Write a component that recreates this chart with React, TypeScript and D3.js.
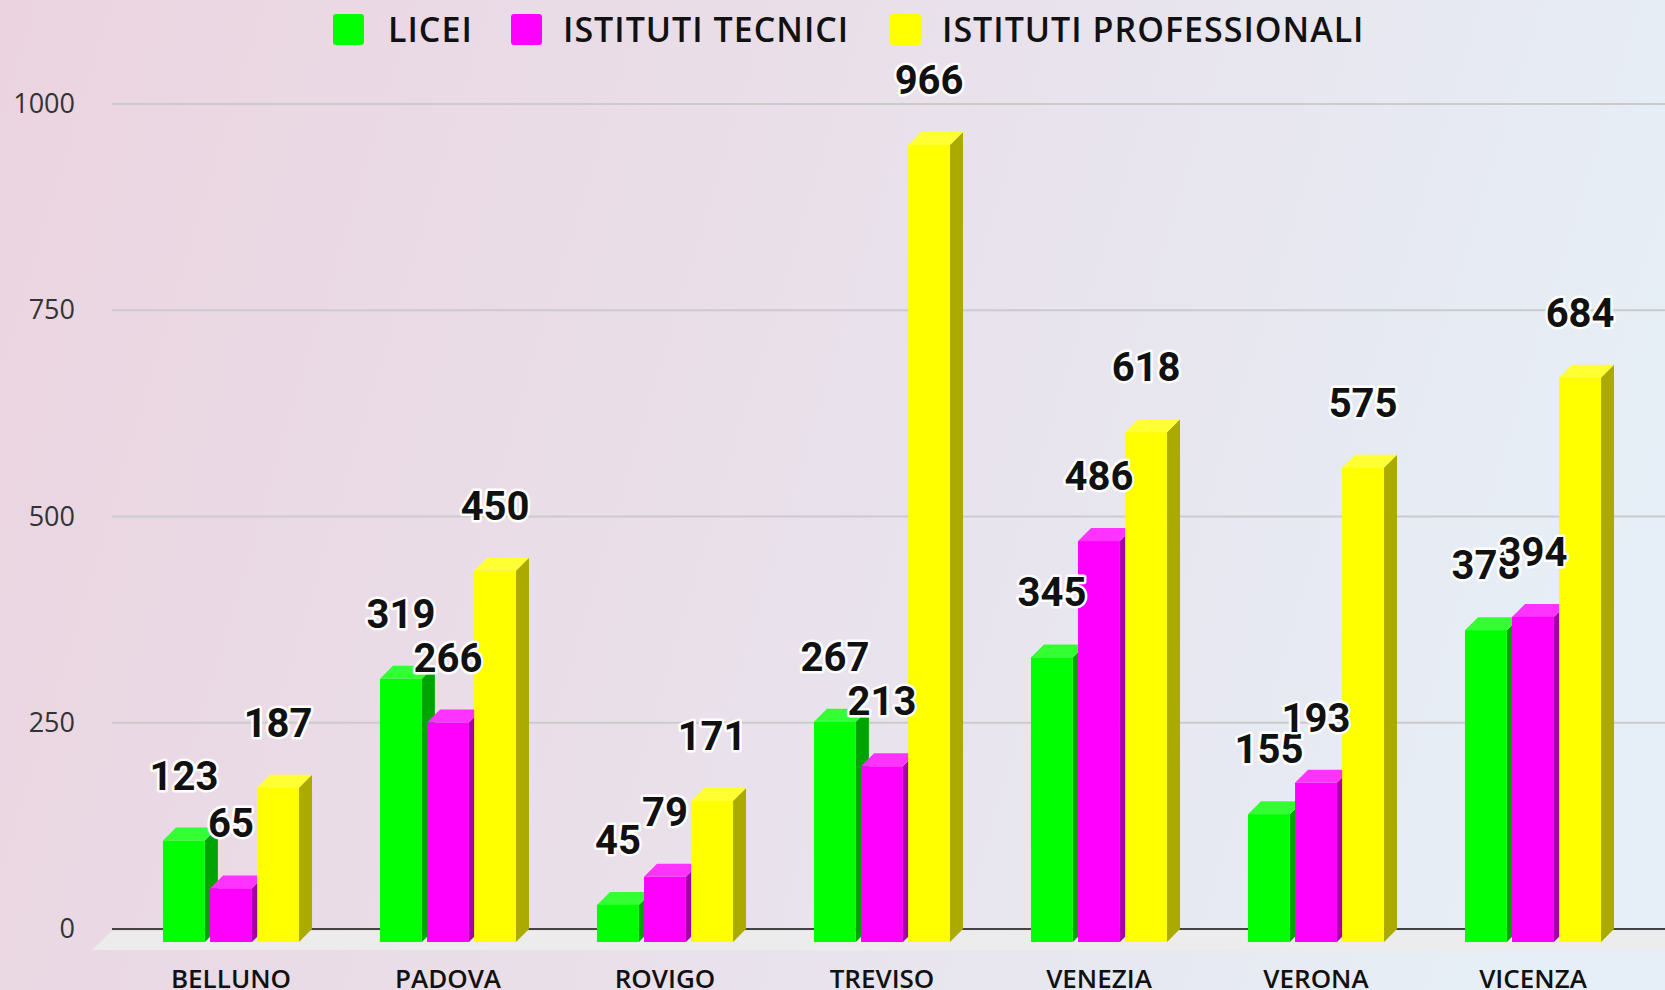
import React from 'react';
import * as d3 from 'd3';

// data
const categories = ['BELLUNO', 'PADOVA', 'ROVIGO', 'TREVISO', 'VENEZIA', 'VERONA', 'VICENZA'];
const seriesNames = ['LICEI', 'ISTITUTI TECNICI', 'ISTITUTI PROFESSIONALI'];
const licei = [123, 319, 45, 267, 345, 155, 378];
const tecnici = [65, 266, 79, 213, 486, 193, 394];
const professionali = [187, 450, 171, 966, 618, 575, 684];
const yTicks = [0, 250, 500, 750, 1000];

const colors = [
  { front: '#00ff00', top: '#33ff33', side: '#00a400' },
  { front: '#ff00ff', top: '#ff33ff', side: '#a400a4' },
  { front: '#ffff00', top: '#ffff33', side: '#aaaa00' },
];

const W = 1665;
const H = 990;
const DX = 13;
const DY = 13;

const App = () => {
  const values = [licei, tecnici, professionali];

  const y = d3.scaleLinear().domain([0, 1000]).range([929, 104]);
  const x0 = d3.scaleBand<string>()
    .domain(categories)
    .range([122.5, 1641.5])
    .paddingInner(0.373)
    .paddingOuter(0.1865);
  const x1 = d3.scaleBand<string>()
    .domain(seriesNames)
    .range([0, x0.bandwidth()])
    .paddingInner(0.11);

  const gridLeft = 112;
  const y0 = y(0);
  const bw = x1.bandwidth();

  const bars: React.ReactNode[] = [];
  const labels: React.ReactNode[] = [];
  categories.forEach((cat, ci) => {
    seriesNames.forEach((s, si) => {
      const v = values[si][ci];
      const c = colors[si];
      const xl = (x0(cat) || 0) + (x1(s) || 0);
      const xr = xl + bw;
      const yb = y0 + DY; // front bottom
      const yt = y(v) + DY; // front top
      bars.push(
        <g key={`${cat}-${s}`}>
          <polygon
            points={`${xr},${yt} ${xr + DX},${yt - DY} ${xr + DX},${yb - DY} ${xr},${yb}`}
            fill={c.side}
          />
          <polygon
            points={`${xl},${yt} ${xl + DX},${yt - DY} ${xr + DX},${yt - DY} ${xr},${yt}`}
            fill={c.top}
          />
          <rect x={xl} y={yt} width={bw} height={yb - yt} fill={c.front} />
        </g>,
      );
      labels.push(
        <text
          key={`l-${cat}-${s}`}
          x={xl + bw / 2}
          y={y(v) - 38}
          textAnchor="middle"
          fontFamily="Roboto, sans-serif"
          fontWeight={700}
          fontSize={40}
          fill="#111"
          stroke="#fff"
          strokeWidth={5}
          strokeLinejoin="round"
          paintOrder="stroke"
        >
          {v}
        </text>,
      );
    });
  });

  // legend placement
  const legendSquares = [333, 511, 890];
  const legendTexts = [388, 563, 942];

  return (
    <div style={{ position: 'absolute', left: 0, top: 0 }}>
      <svg width={W} height={H} style={{ display: 'block' }}>
        <defs>
          <linearGradient id="bg" gradientUnits="userSpaceOnUse" x1="0" y1="0" x2={W} y2="500">
            <stop offset="0" stopColor="#ebd4e0" />
            <stop offset="0.5" stopColor="#e9e0ea" />
            <stop offset="1" stopColor="#e6eff7" />
          </linearGradient>
        </defs>
        <rect width={W} height={H} fill="url(#bg)" />

        {/* gridlines and y labels */}
        {yTicks.map((t) => (
          <g key={t}>
            {t !== 0 && (
              <line x1={gridLeft} x2={W} y1={y(t)} y2={y(t)} stroke="#cbcbcb" strokeWidth={2} />
            )}
            <text
              x={75}
              y={y(t) + 9}
              textAnchor="end"
              fontFamily="'Open Sans', sans-serif"
              fontSize={27}
              fill="#333"
            >
              {t}
            </text>
          </g>
        ))}

        {/* floor */}
        <polygon
          points={`${gridLeft},${y0 + 2} ${W},${y0 + 2} ${W},${y0 + 21} ${gridLeft - 20},${y0 + 21}`}
          fill="#ececec"
        />
        <line x1={gridLeft} x2={W} y1={y0} y2={y0} stroke="#444" strokeWidth={2} />

        {bars}
        {labels}

        {/* category labels */}
        {categories.map((cat) => (
          <text
            key={cat}
            x={(x0(cat) || 0) + x0.bandwidth() / 2}
            y={988}
            textAnchor="middle"
            fontFamily="'Open Sans', sans-serif"
            fontWeight={600}
            fontSize={26}
            fill="#111"
          >
            {cat}
          </text>
        ))}

        {/* legend */}
        {seriesNames.map((s, i) => (
          <g key={s}>
            <rect x={legendSquares[i]} y={14} width={31} height={31} rx={3} fill={colors[i].front} />
            <text
              x={legendTexts[i]}
              y={42}
              fontFamily="'Open Sans', sans-serif"
              fontWeight={600}
              fontSize={34}
              letterSpacing={1}
              fill="#111"
            >
              {s}
            </text>
          </g>
        ))}
      </svg>
    </div>
  );
};

export default App;
